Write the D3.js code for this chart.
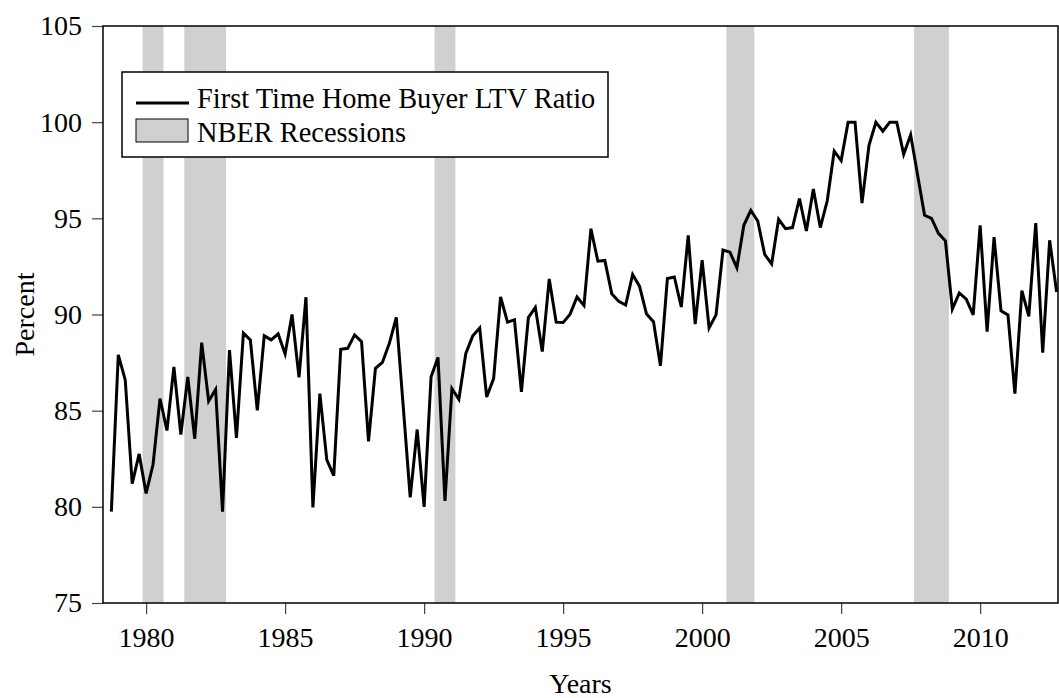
<!DOCTYPE html>
<html>
<head>
<meta charset="utf-8">
<script src="https://cdn.jsdelivr.net/npm/d3@7"></script>
<style>
  body { margin: 0; background: #fff; }
  text { font-family: "Liberation Serif", "Times New Roman", serif; fill: #000; }
</style>
</head>
<body>
<div class="chart"></div>
<script>
(function () {
  'use strict';

  // quarterly series, first point is 1978 Q4 (plotted at 1978.75)
  var startYear = 1978.75;
  var ltv = [
    79.75, 87.9, 86.6, 81.2, 82.75, 80.7, 82.2, 85.63, 83.97, 87.28,
    83.76, 86.76, 83.54, 88.54, 85.49, 86.1, 79.75, 88.15, 83.59, 89.03,
    88.68, 85.02, 88.89, 88.68, 88.99, 87.95, 90.0, 86.73, 90.9, 79.97,
    85.89, 82.44, 81.62, 88.19, 88.24, 88.94, 88.59, 83.4, 87.2, 87.51,
    88.5, 89.85, 85.2, 80.49, 84.02, 80.0, 86.76, 87.77, 80.31, 86.15,
    85.59, 87.98, 88.89, 89.3, 85.71, 86.67, 90.91, 89.6, 89.72, 85.98,
    89.84, 90.37, 88.07, 91.85, 89.6, 89.58, 90.02, 90.91, 90.47, 94.46,
    92.77, 92.81, 91.08, 90.68, 90.49, 92.08, 91.46, 90.02, 89.63, 87.33,
    91.87, 91.95, 90.39, 94.11, 89.5, 92.82, 89.3, 89.98, 93.35, 93.24,
    92.43, 94.64, 95.42, 94.86, 93.12, 92.63, 94.95, 94.46, 94.52, 96.03,
    94.34, 96.52, 94.52, 95.91, 98.49, 98.0, 100, 100, 95.79, 98.78,
    100, 99.53, 100, 100, 98.33, 99.34, 97.25, 95.16, 95.0, 94.22,
    93.83, 90.28, 91.12, 90.8, 89.98, 94.63, 89.11, 94.02, 90.19, 89.98,
    85.89, 91.24, 89.9, 94.75, 88.01, 93.86, 91.17
  ];

  var recStart = [1979.875, 1981.375, 1990.375, 2000.875, 2007.625];
  var recEnd = [1980.625, 1982.875, 1991.125, 2001.875, 2008.875];

  var xTicks = [1980, 1985, 1990, 1995, 2000, 2005, 2010];
  var yTicks = [75, 80, 85, 90, 95, 100, 105];

  var legendLabels = ['First Time Home Buyer LTV Ratio', 'NBER Recessions'];

  var w = 1059;
  var h = 698;
  var left = 103, right = 1058, top = 26, bottom = 603;
  var fontSize = 28;

  var svg = d3.select('.chart').append('svg').attr('width', w).attr('height', h);

  var x = d3.scaleLinear().domain([1978.45, 2012.8]).range([left, right]);
  var y = d3.scaleLinear().domain([75, 105]).range([bottom, top]);

  svg.append('clipPath').attr('id', 'plotClip')
    .append('rect').attr('x', left).attr('y', top)
    .attr('width', right - left).attr('height', bottom - top);

  var plot = svg.append('g').attr('clip-path', 'url(#plotClip)');

  // recession bands
  plot.selectAll('.rec').data(recStart).enter().append('rect')
    .attr('class', 'rec')
    .attr('x', function (d) { return x(d); })
    .attr('width', function (d, i) { return x(recEnd[i]) - x(d); })
    .attr('y', top)
    .attr('height', bottom - top)
    .style('fill', '#d0d0d0');

  var line = d3.line()
    .x(function (d, i) { return x(startYear + i * 0.25); })
    .y(function (d) { return y(d); });

  plot.append('path').datum(ltv)
    .attr('d', line)
    .style('fill', 'none')
    .style('stroke', '#000')
    .style('stroke-width', 3)
    .style('stroke-linejoin', 'miter');

  // axes
  var xAxis = svg.append('g').attr('transform', 'translate(0,' + bottom + ')')
    .call(d3.axisBottom(x).tickValues(xTicks).tickSize(11).tickPadding(13).tickFormat(d3.format('d')));
  var yAxis = svg.append('g').attr('transform', 'translate(' + left + ',0)')
    .call(d3.axisLeft(y).tickValues(yTicks).tickSize(11).tickPadding(10));

  [xAxis, yAxis].forEach(function (a) {
    a.select('.domain').remove();
    a.selectAll('line').style('stroke', '#444').style('stroke-width', 1.2);
    a.selectAll('text').style('font-size', fontSize + 'px')
      .style('font-family', '"Liberation Serif", serif').style('fill', '#000');
  });

  // frame
  svg.append('rect')
    .attr('x', left).attr('y', top)
    .attr('width', right - left).attr('height', bottom - top)
    .style('fill', 'none').style('stroke', '#000').style('stroke-width', 1.5);

  // axis titles
  svg.append('text')
    .attr('x', (left + right) / 2).attr('y', 693)
    .attr('text-anchor', 'middle')
    .style('font-size', fontSize + 'px')
    .text('Years');

  svg.append('text')
    .attr('transform', 'translate(34,' + (top + bottom) / 2 + ') rotate(-90)')
    .attr('text-anchor', 'middle')
    .style('font-size', fontSize + 'px')
    .text('Percent');

  // legend
  var legend = svg.append('g');
  legend.append('rect')
    .attr('x', 122).attr('y', 72).attr('width', 486).attr('height', 85)
    .style('fill', '#fff').style('stroke', '#000').style('stroke-width', 1.5);
  legend.append('line')
    .attr('x1', 136).attr('x2', 189).attr('y1', 103).attr('y2', 103)
    .style('stroke', '#000').style('stroke-width', 3);
  legend.append('rect')
    .attr('x', 136).attr('y', 119).attr('width', 52).attr('height', 23)
    .style('fill', '#d0d0d0').style('stroke', '#000').style('stroke-width', 1);
  legend.selectAll('.leg').data(legendLabels).enter().append('text')
    .attr('class', 'leg')
    .attr('x', 197)
    .attr('y', function (d, i) { return i === 0 ? 108 : 141.5; })
    .style('font-size', '28.4px')
    .text(function (d) { return d; });
})();
</script>
</body>
</html>
